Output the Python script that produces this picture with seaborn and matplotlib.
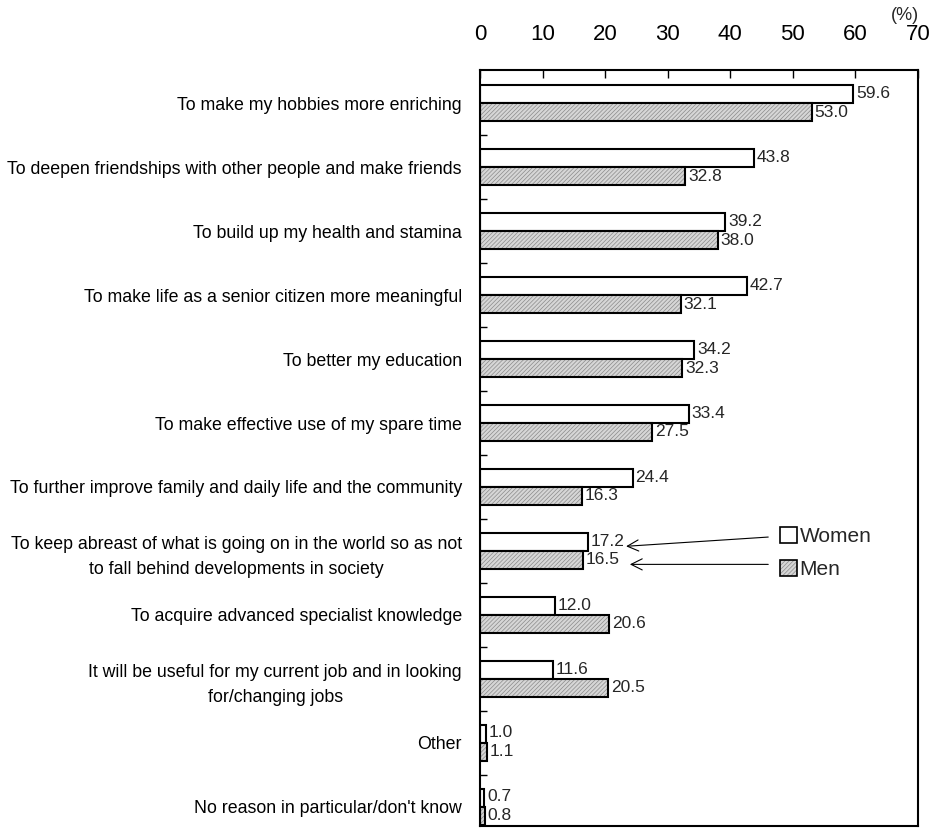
import matplotlib
matplotlib.use("Agg")
import matplotlib.pyplot as plt
from matplotlib.patches import Patch, Rectangle
from matplotlib.legend_handler import HandlerTuple
import seaborn as sns
import pandas as pd

categories = [
    "To make my hobbies more enriching",
    "To deepen friendships with other people and make friends",
    "To build up my health and stamina",
    "To make life as a senior citizen more meaningful",
    "To better my education",
    "To make effective use of my spare time",
    "To further improve family and daily life and the community",
    "To keep abreast of what is going on in the world so as not\nto fall behind developments in society",
    "To acquire advanced specialist knowledge",
    "It will be useful for my current job and in looking\nfor/changing jobs",
    "Other",
    "No reason in particular/don't know",
]
women = [59.6, 43.8, 39.2, 42.7, 34.2, 33.4, 24.4, 17.2, 12.0, 11.6, 1.0, 0.7]
men = [53.0, 32.8, 38.0, 32.1, 32.3, 27.5, 16.3, 16.5, 20.6, 20.5, 1.1, 0.8]
groups = ["Women", "Men"]
x_ticks = [0, 10, 20, 30, 40, 50, 60, 70]

sns.set_theme(style="white")
plt.rcParams["font.family"] = ["Liberation Sans", "DejaVu Sans"]
plt.rcParams["hatch.linewidth"] = 0.5

MEN_FILL = "#d6d6d6"
HATCH_GREY = "#8a8a8a"

df = pd.DataFrame({
    "reason": categories * 2,
    "value": women + men,
    "group": [groups[0]] * len(women) + [groups[1]] * len(men),
})

fig = plt.figure(figsize=(9.33, 8.4), dpi=100)
ax = fig.add_axes([0.5145, 0.0167, 0.4695, 0.9])

sns.barplot(data=df, y="reason", x="value", hue="group", order=categories,
            hue_order=groups, orient="h", width=0.56, dodge=True,
            palette=["white", MEN_FILL], edgecolor="black", linewidth=1.5,
            legend=False, ax=ax)

n = len(categories)
bars = ax.patches[:2 * n]
women_bars = bars[:n]
men_bars = bars[n:]

# hatched fill for the men's bars, with a separate black outline on top
for p in men_bars:
    p.set_hatch("////////")
    p.set_edgecolor(HATCH_GREY)
    p.set_linewidth(0)
    ax.add_patch(Rectangle(p.get_xy(), p.get_width(), p.get_height(),
                           fill=False, edgecolor="black", linewidth=1.5,
                           zorder=p.get_zorder() + 0.1))

# value labels
for p, v in zip(women_bars, women):
    ax.text(v + 0.45, p.get_y() + p.get_height() * 0.45, f"{v:.1f}",
            va="center", ha="left", fontsize=12.5)
for p, v in zip(men_bars, men):
    ax.text(v + 0.45, p.get_y() + p.get_height() * 0.5, f"{v:.1f}",
            va="center", ha="left", fontsize=12.5)

ax.set_xlim(0, 70)
ax.set_ylim(11.3, -0.52)
ax.set_xlabel("")
ax.set_ylabel("")

# x axis on top, ticks pointing inward
ax.xaxis.set_ticks_position("top")
ax.xaxis.set_label_position("top")
ax.set_xticks(x_ticks)
ax.set_xticklabels([str(t) for t in x_ticks])
ax.tick_params(axis="x", direction="in", length=6, width=1, pad=18,
               labelsize=16, colors="black")
ax.text(67.9, 1.072, "(%)", transform=ax.get_xaxis_transform(),
        ha="center", va="center", fontsize=13)

# y tick labels at group centres, short inward ticks at group boundaries
ax.set_yticks(range(n))
ax.set_yticklabels(categories, multialignment="center", linespacing=1.6)
ax.set_yticks([i + 0.5 for i in range(n - 1)], minor=True)
ax.tick_params(axis="y", which="major", length=0, pad=13, labelsize=12.8,
               colors="black")
ax.tick_params(axis="y", which="minor", direction="in", length=5, width=1,
               left=True, color="black")

for s in ax.spines.values():
    s.set_visible(True)
    s.set_color("black")
    s.set_linewidth(1.5)

# legend: the men's swatch is a hatched fill overlaid with a black outline
women_handle = Patch(facecolor="white", edgecolor="black", linewidth=1.2)
men_fill = Patch(facecolor=MEN_FILL, edgecolor=HATCH_GREY, linewidth=0,
                 hatch="////////")
men_edge = Patch(facecolor="none", edgecolor="black", linewidth=1.2)
leg = ax.legend([women_handle, (men_fill, men_edge)], groups,
                handler_map={tuple: HandlerTuple(ndivide=1, pad=0)},
                loc="center left", bbox_to_anchor=(0.684, 0.361),
                frameon=False, prop={"size": 15},
                handlelength=0.85, handleheight=0.85, handletextpad=0.1,
                labelspacing=0.65, borderaxespad=0, borderpad=0)

# pointer arrows from the legend to the labelled pair
arrow = dict(arrowstyle="->", color="black", linewidth=0.8,
             mutation_scale=20)
ax.annotate("", xy=(22.9, 6.93), xytext=(46.5, 6.78), arrowprops=arrow)
ax.annotate("", xy=(23.5, 7.21), xytext=(46.5, 7.21), arrowprops=arrow)

fig.savefig("out.png", dpi=100)
